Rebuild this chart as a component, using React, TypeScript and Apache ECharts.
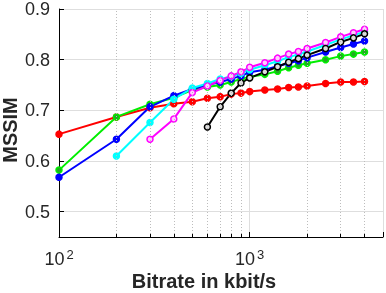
import React, { useEffect, useRef } from "react";
import * as echarts from "echarts";

const bitrates = [100, 200, 300, 400, 500, 600, 700, 800, 900, 1000, 1200, 1400, 1600, 1800, 2000, 2500, 3000, 3500, 4000];

const redVals = [0.653, 0.687, 0.705, 0.713, 0.717, 0.724, 0.727, 0.732, 0.734, 0.737, 0.740, 0.742, 0.745, 0.746, 0.748, 0.753, 0.756, 0.756, 0.757];
const greenVals = [0.582, 0.687, 0.712, 0.725, 0.740, 0.746, 0.750, 0.756, 0.762, 0.766, 0.771, 0.777, 0.784, 0.789, 0.793, 0.800, 0.807, 0.811, 0.815];
const blueVals = [0.568, 0.643, 0.707, 0.729, 0.742, 0.750, 0.756, 0.762, 0.768, 0.775, 0.780, 0.787, 0.793, 0.798, 0.804, 0.815, 0.824, 0.831, 0.837];
// cyan starts at 200
const cyanVals = [0.610, 0.676, 0.722, 0.744, 0.753, 0.762, 0.767, 0.773, 0.780, 0.789, 0.797, 0.805, 0.810, 0.816, 0.829, 0.840, 0.848, 0.855];
// magenta starts at 300
const magentaVals = [0.643, 0.683, 0.735, 0.748, 0.759, 0.768, 0.776, 0.785, 0.794, 0.803, 0.811, 0.816, 0.822, 0.834, 0.845, 0.853, 0.860];
// black starts at 600
const blackVals = [0.667, 0.707, 0.734, 0.754, 0.764, 0.776, 0.786, 0.795, 0.802, 0.809, 0.822, 0.835, 0.843, 0.851];

const minorXTicks = [200, 300, 400, 500, 600, 700, 800, 900, 2000, 3000, 4000];
const yTicks = [0.5, 0.6, 0.7, 0.8, 0.9];
const Y_MIN = 0.45;
const Y_MAX = 0.9;

const FONT = "Liberation Sans, Arial, Helvetica, sans-serif";
const TXT = "#262626";

function pairs(vals: number[]) {
  const off = bitrates.length - vals.length;
  return vals.map((v, i) => [bitrates[i + off], v]);
}

function lineSeries(name: string, vals: number[], color: string, fill: string, border: string) {
  return {
    name,
    type: "line",
    data: pairs(vals),
    symbol: "circle",
    symbolSize: 6,
    lineStyle: { color, width: 2 },
    itemStyle: { color: fill, borderColor: border, borderWidth: 1.5 },
    emphasis: { disabled: true },
    z: 3,
  };
}

export default function App() {
  const ref = useRef<HTMLDivElement>(null);
  useEffect(() => {
    if (!ref.current) return;
    const chart = echarts.init(ref.current, null, { renderer: "svg" });
    const minorGrid = minorXTicks.map((x) => [
      { coord: [x, Y_MIN] },
      { coord: [x, Y_MAX] },
    ]);
    const minorTickMarks = minorXTicks.map((x) => [
      { coord: [x, Y_MIN], lineStyle: { color: "#000", type: "solid", width: 1 } },
      { coord: [x, Y_MIN + 0.006] },
    ]);
    chart.setOption({
      animation: false,
      grid: { left: 59, top: 8, right: 1, bottom: 56 },
      xAxis: {
        type: "log",
        logBase: 10,
        min: 100,
        max: 5000,
        position: "bottom",
        axisLine: { show: true, onZero: false, lineStyle: { color: "#000", width: 1 } },
        axisTick: { show: true, inside: true, length: 5, lineStyle: { color: "#000" } },
        splitLine: { show: true, lineStyle: { color: "#dedede", width: 1 } },
        axisLabel: {
          margin: 11,
          formatter: (v: number) => {
            const e = Math.round(Math.log10(v));
            if (Math.abs(Math.log10(v) - e) > 1e-6) return "";
            return `{b|10}{s|${e}}`;
          },
          rich: {
            b: { fontSize: 18, fontFamily: FONT, color: TXT },
            s: { fontSize: 13, fontFamily: FONT, color: TXT, padding: [0, 0, 9, 2] },
          },
        },
      },
      yAxis: {
        type: "value",
        min: Y_MIN,
        max: Y_MAX,
        axisLine: { show: true, lineStyle: { color: "#000", width: 1 } },
        axisTick: { show: true, inside: true, length: 5, customValues: yTicks, lineStyle: { color: "#000" } },
        splitLine: { show: true, lineStyle: { color: "#dedede", width: 1 } },
        axisLabel: {
          customValues: yTicks,
          margin: 9,
          fontSize: 18,
          fontFamily: FONT,
          color: TXT,
          formatter: (v: number) => v.toFixed(1),
        },
      },
      graphic: [
        {
          type: "text",
          x: 204,
          y: 281,
          style: { text: "Bitrate in kbit/s", font: `bold 20px ${FONT}`, fill: TXT, textAlign: "center", textVerticalAlign: "middle" },
        },
        {
          type: "text",
          x: 10,
          y: 130,
          rotation: Math.PI / 2,
          style: { text: "MSSIM", font: `bold 20px ${FONT}`, fill: TXT, textAlign: "center", textVerticalAlign: "middle" },
        },
      ],
      series: [
        {
          name: "minorGrid",
          type: "line",
          data: [],
          z: 1,
          silent: true,
          markLine: {
            silent: true,
            symbol: ["none", "none"],
            label: { show: false },
            emphasis: { disabled: true },
            lineStyle: { color: "#bdbdbd", type: [1, 2], width: 1 },
            data: [...minorGrid, ...minorTickMarks],
          },
        },
        lineSeries("red", redVals, "#ff0000", "#ff0000", "#ff0000"),
        lineSeries("green", greenVals, "#00ee00", "#22aa22", "#00ee00"),
        lineSeries("blue", blueVals, "#0000ff", "#0000ff", "#0000ff"),
        lineSeries("cyan", cyanVals, "#00ffff", "#00ffff", "#00ffff"),
        lineSeries("magenta", magentaVals, "#ff00ff", "#ffccff", "#ff00ff"),
        lineSeries("black", blackVals, "#000000", "#dddddd", "#000000"),
      ],
    });
    return () => chart.dispose();
  }, []);
  return <div ref={ref} style={{ position: "fixed", left: 0, top: 0, width: 386, height: 293 }} />;
}
